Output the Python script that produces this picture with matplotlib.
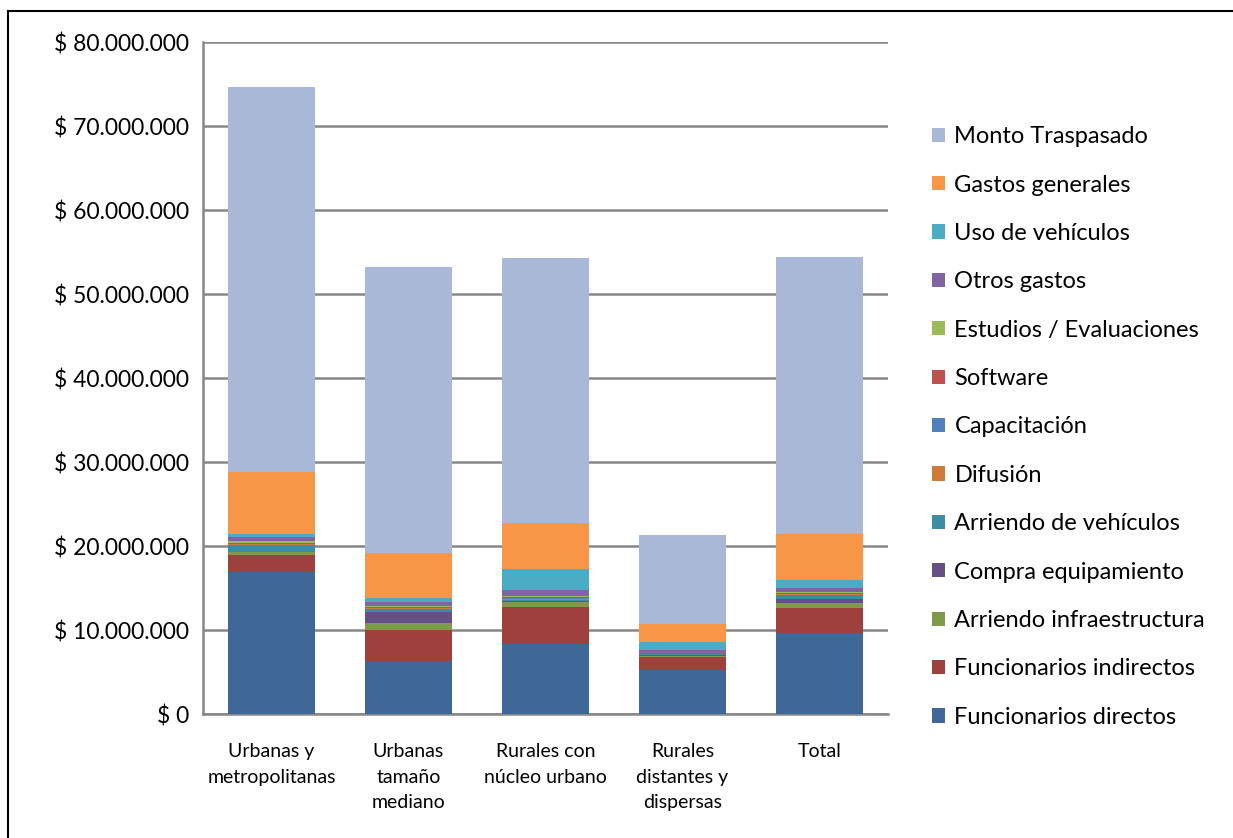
import numpy as np
import matplotlib
matplotlib.use("Agg")
import matplotlib.pyplot as plt
from matplotlib.lines import Line2D
from matplotlib.ticker import FuncFormatter

plt.rcParams['font.family'] = ['Lato', 'DejaVu Sans']

# categorias y valores (millones de pesos)
categorias = ["Urbanas y\nmetropolitanas", "Urbanas\ntamaño\nmediano", "Rurales con\nnúcleo urbano",
              "Rurales\ndistantes y\ndispersas", "Total"]
series = ["Funcionarios directos", "Funcionarios indirectos", "Arriendo infraestructura",
          "Compra equipamiento", "Arriendo de vehículos", "Difusión", "Capacitación", "Software",
          "Estudios / Evaluaciones", "Otros gastos", "Uso de vehículos", "Gastos generales",
          "Monto Traspasado"]
colores = ["#3F6899", "#9E413E", "#7F9A48", "#664F85", "#3C8DA3", "#CC7B38", "#4F81BD",
           "#C0504D", "#9BBB59", "#8064A2", "#4BACC6", "#F79646", "#A9B8D6"]

func_directos = [16.94, 6.27, 8.33, 5.20, 9.68]
func_indirectos = [1.99, 3.73, 4.44, 1.55, 2.97]
arriendo_infra = [0.32, 0.79, 0.60, 0.15, 0.53]
compra_equip = [0.05, 1.39, 0.12, 0.10, 0.50]
arriendo_veh = [0.82, 0.28, 0.12, 0.10, 0.48]
difusion = [0.12, 0.10, 0.12, 0.05, 0.12]
capacitacion = [0.04, 0.05, 0.08, 0.03, 0.06]
software = [0.12, 0.10, 0.10, 0.05, 0.10]
estudios = [0.19, 0.15, 0.14, 0.07, 0.10]
otros_gastos = [0.52, 0.51, 0.67, 0.32, 0.45]
uso_veh = [0.28, 0.48, 2.58, 0.95, 0.99]
gastos_generales = [7.46, 5.35, 5.48, 2.14, 5.41]
monto_traspasado = [45.79, 34.01, 31.51, 10.60, 33.01]

valores = [func_directos, func_indirectos, arriendo_infra, compra_equip, arriendo_veh,
           difusion, capacitacion, software, estudios, otros_gastos, uso_veh,
           gastos_generales, monto_traspasado]

fig = plt.figure(figsize=(12.33, 8.38), dpi=100)
ax = fig.add_axes([203/1233, 1-714/838, 685/1233, 672/838])

x = np.arange(len(categorias))
base = np.zeros(len(categorias))
handles = []
for nombre, col, vals in zip(series, colores, valores):
    v = np.array(vals) * 1e6
    b = ax.bar(x, v, 0.635, bottom=base, color=col, linewidth=0, label=nombre, zorder=3)
    handles.append(b)
    base += v

ax.set_xlim(-0.5, 4.5)
ax.set_ylim(0, 80e6)
ax.set_yticks(np.arange(0, 80e6 + 1, 10e6))
ax.yaxis.set_major_formatter(FuncFormatter(
    lambda v, p: "$ " + f"{int(v):,}".replace(",", ".")))
ax.set_xticks(x)
ax.set_xticklabels(categorias, fontsize=14, linespacing=1.6)
ax.tick_params(axis='both', length=0)
ax.tick_params(axis='y', labelsize=16.5, pad=10)
ax.tick_params(axis='x', pad=21)
ax.grid(axis='y', color='#878787', linewidth=1.8, zorder=0)
for s in ['top', 'right']:
    ax.spines[s].set_visible(False)
for s in ['left', 'bottom']:
    ax.spines[s].set_color('#878787')
    ax.spines[s].set_linewidth(1.8)

leg = fig.legend(handles[::-1], series[::-1], loc='center left',
                 bbox_to_anchor=(932/1233, 1-427/838), frameon=False,
                 fontsize=17, labelspacing=1.16, handlelength=0.55, handleheight=0.55,
                 handletextpad=0.4, borderpad=0, borderaxespad=0)

# marco
fig.add_artist(Line2D([8/1233, 8/1233], [0, 1-11/838], color='black', linewidth=1.5))
fig.add_artist(Line2D([8/1233, 1], [1-11/838, 1-11/838], color='black', linewidth=1.5))

fig.savefig("out.png", dpi=100)
